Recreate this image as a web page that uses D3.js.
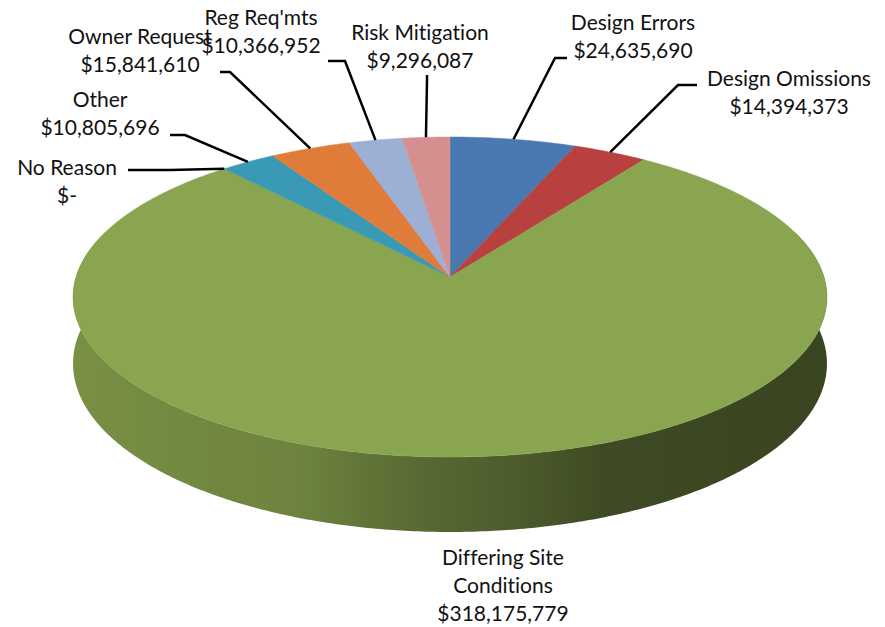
<!DOCTYPE html>
<html>
<head>
<meta charset="utf-8">
<script src="https://cdn.jsdelivr.net/npm/d3@7"></script>
<style>
  body { margin: 0; background: #fff; }
  svg text { font-family: Lato, "Open Sans", sans-serif; font-size: 21px; fill: #111; font-variant-ligatures: none; }
</style>
</head>
<body>
<div id="chart"></div>
<script>
// pie data, in slice order (clockwise from 12 o'clock)
const categories = ['Design Errors', 'Design Omissions', 'Differing Site Conditions', 'No Reason',
  'Other', 'Owner Request', "Reg Req'mts", 'Risk Mitigation'];
const values = [24635690, 14394373, 318175779, 0, 10805696, 15841610, 10366952, 9296087];
const valueLabels = ['$24,635,690', '$14,394,373', '$318,175,779', '$-',
  '$10,805,696', '$15,841,610', '$10,366,952', '$9,296,087'];
const colors = ['#4a78b0', '#b8403e', '#8aa54f', '#8064a2', '#3a9ab5', '#e07c3a', '#9cb0d6', '#d4908f'];

// label layout: name lines, text centre x, first baseline y, leader start + elbow
const labelLayout = [
  { lines: ['Design Errors'], x: 633, y: 30, lead: [[567, 58], [555, 58]] },
  { lines: ['Design Omissions'], x: 789, y: 86, lead: [[697, 85], [678, 85]] },
  { lines: ['Differing Site', 'Conditions'], x: 503, y: 565, lead: null },
  { lines: ['No Reason'], x: 67, y: 175, lead: [[128, 170], [170, 170]] },
  { lines: ['Other'], x: 100, y: 107, lead: [[170, 135], [185, 135]] },
  { lines: ['Owner Request'], x: 140, y: 44, lead: [[220, 72], [230, 72]] },
  { lines: ["Reg Req'mts"], x: 261, y: 25, lead: [[328, 61], [345, 61]] },
  { lines: ['Risk Mitigation'], x: 420, y: 40, lead: [[427, 75], [427, 80]] }
];

const width = 885, height = 627;
// 3d view: centre, radii, perspective, thickness
const cx = 450, cy = 277, A = 374, B = 157.5, p = 0.125, depth = 65.6;
const lineH = 28;

function proj(theta, r, h) {
  const u = r * Math.sin(theta), v = -r * Math.cos(theta);
  const w = 1 - p * v;
  return [cx + A * u / w, cy + (B * v + h) / w];
}

function arcPts(a0, a1, h) {
  const n = Math.max(2, Math.ceil((a1 - a0) / 0.01));
  return d3.range(n + 1).map(i => proj(a0 + (a1 - a0) * i / n, 1, h));
}

const svg = d3.select('#chart').append('svg')
  .attr('width', width)
  .attr('height', height);

const pie = d3.pie().sort(null).value(d => d)(values);
const line = d3.line();
const defs = svg.append('defs');

// side walls (front half only)
const sideStops = [[0, 0.4], [0.3, 0.65], [0.47, 1.3], [0.6, 1.7], [0.7, 2.2], [1, 2.5]];
const frontLo = Math.PI / 2 - 0.3, frontHi = 3 * Math.PI / 2 + 0.3;

pie.forEach((s, i) => {
  const a0 = Math.max(s.startAngle, frontLo), a1 = Math.min(s.endAngle, frontHi);
  if (a1 <= a0) return;
  const grad = defs.append('linearGradient')
    .attr('id', 'side' + i)
    .attr('gradientUnits', 'userSpaceOnUse')
    .attr('x1', cx - A).attr('x2', cx + A).attr('y1', 0).attr('y2', 0);
  sideStops.forEach(([o, k]) => {
    grad.append('stop').attr('offset', o).attr('stop-color', d3.color(colors[i]).darker(k));
  });
  const pts = arcPts(a0, a1, 0).concat(arcPts(a0, a1, depth).reverse());
  svg.append('path')
    .attr('d', line(pts) + 'Z')
    .attr('fill', `url(#side${i})`);
});

// top faces
svg.append('g').selectAll('path')
  .data(pie.filter(s => s.value > 0))
  .join('path')
  .attr('d', s => line([[cx, cy]].concat(arcPts(s.startAngle, s.endAngle, 0))) + 'Z')
  .attr('fill', s => colors[s.index])
  .attr('stroke', s => colors[s.index])
  .attr('stroke-width', 0.5);

// leader lines
const leaders = svg.append('g');
pie.forEach((s, i) => {
  const lay = labelLayout[i];
  if (!lay.lead) return;
  const mid = s.value > 0 ? (s.startAngle + s.endAngle) / 2 : s.startAngle;
  const anchor = proj(mid, 1, 0);
  leaders.append('path')
    .attr('d', line(lay.lead.concat([anchor])))
    .attr('fill', 'none')
    .attr('stroke', '#000')
    .attr('stroke-width', 2.5);
});

// labels
const labels = svg.append('g');
pie.forEach((s, i) => {
  const lay = labelLayout[i];
  const t = labels.append('text')
    .attr('text-anchor', 'middle');
  lay.lines.concat([valueLabels[i]]).forEach((txt, j) => {
    t.append('tspan')
      .attr('x', lay.x)
      .attr('y', lay.y + j * lineH)
      .text(txt);
  });
});
</script>
</body>
</html>
